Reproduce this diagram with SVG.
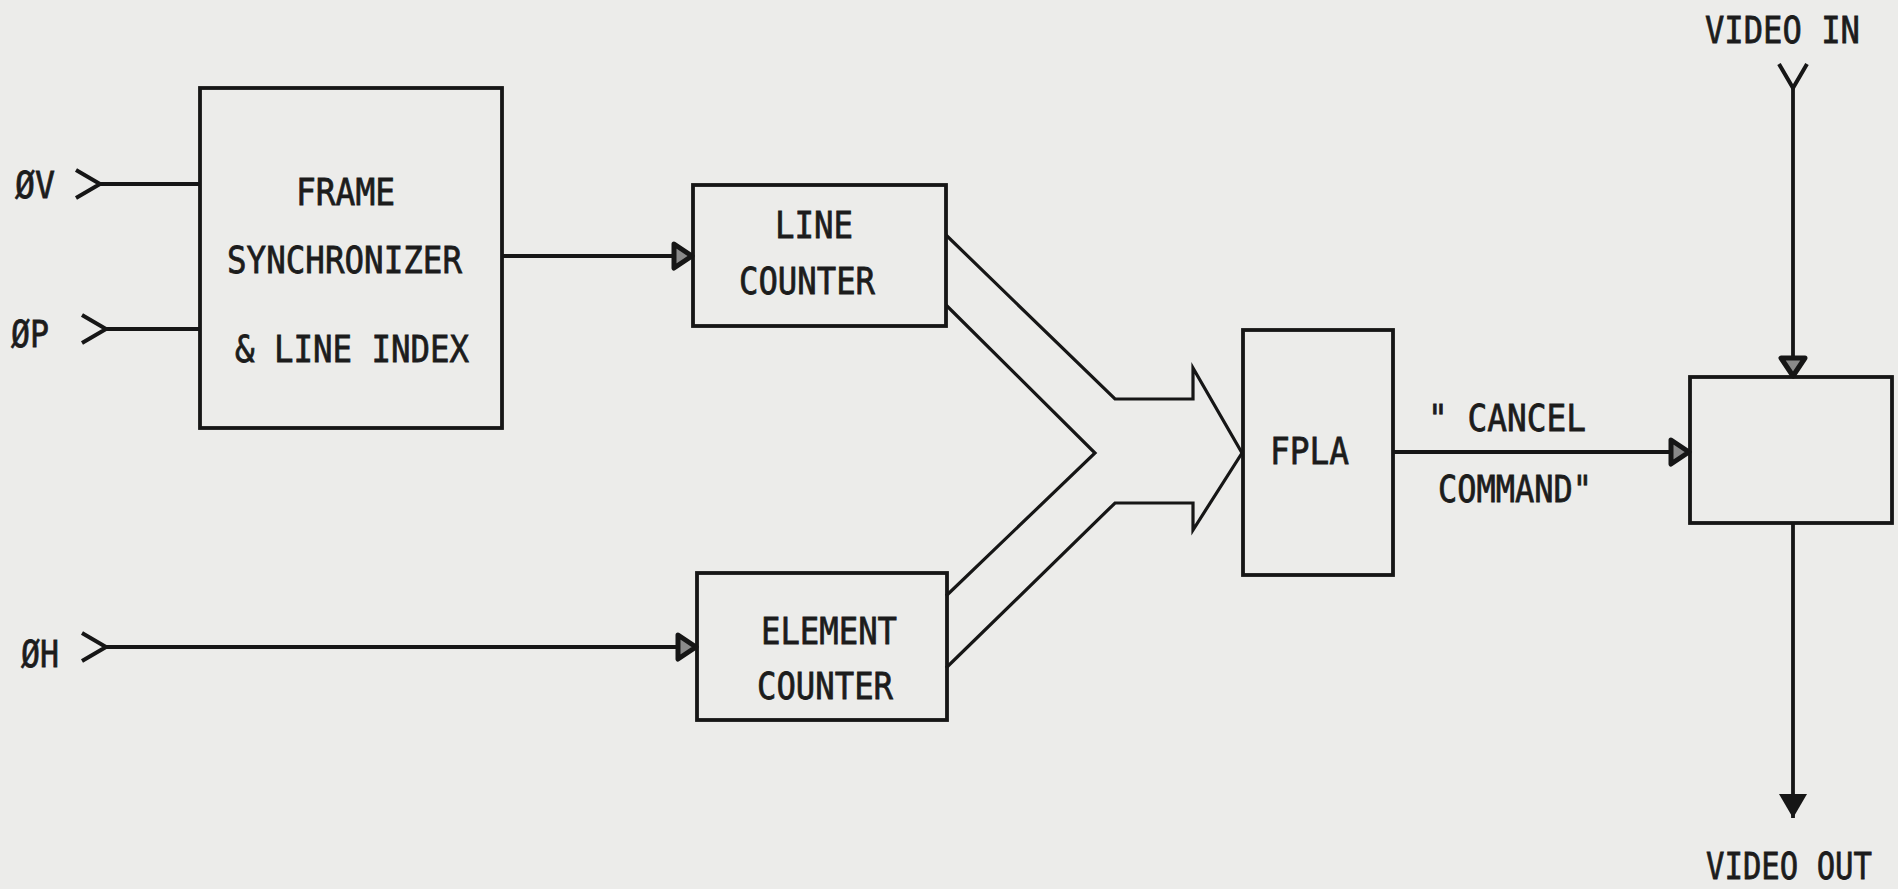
<svg xmlns="http://www.w3.org/2000/svg" width="1898" height="889" viewBox="0 0 1898 889">
<style>
.bg{fill:#ececea}
.box{fill:none;stroke:#161616;stroke-width:3.8}
.ln{fill:none;stroke:#161616;stroke-width:3.8}
.thin{fill:none;stroke:#161616;stroke-width:3.2;stroke-linejoin:miter}
.t{font-family:"DejaVu Sans Mono","Liberation Mono",monospace;font-size:38px;fill:#1c1c1c;stroke:#1c1c1c;stroke-width:0.8}
</style>
<defs>
<marker id="tri" markerUnits="userSpaceOnUse" viewBox="0 0 22 28" refX="21" refY="14" markerWidth="22" markerHeight="28" orient="auto" overflow="visible">
<path d="M2,2 L20,14 L2,26 Z" fill="#8a8a8a" stroke="#161616" stroke-width="5" stroke-linejoin="round"/>
</marker>
<marker id="solid" markerUnits="userSpaceOnUse" viewBox="0 0 26 30" refX="25" refY="15" markerWidth="26" markerHeight="30" orient="auto" overflow="visible">
<path d="M1,1 L25,15 L1,29 Z" fill="#161616"/>
</marker>
<marker id="tail" markerUnits="userSpaceOnUse" viewBox="0 0 25 30" refX="24" refY="15" markerWidth="25" markerHeight="30" orient="auto" overflow="visible">
<path d="M0,1 L24,15 L0,29" fill="none" stroke="#161616" stroke-width="4"/>
</marker>
</defs>
<rect class="bg" x="0" y="0" width="1898" height="889"/>

<g id="connectors">
<line class="ln" x1="100" y1="184" x2="200" y2="184" marker-start="url(#tail)"/>
<line class="ln" x1="106" y1="329" x2="200" y2="329" marker-start="url(#tail)"/>
<line class="ln" x1="106" y1="647" x2="697" y2="647" marker-start="url(#tail)" marker-end="url(#tri)"/>
<line class="ln" x1="502" y1="256" x2="693" y2="256" marker-end="url(#tri)"/>
<line class="ln" x1="1393" y1="452" x2="1690" y2="452" marker-end="url(#tri)"/>
<line class="ln" x1="1793" y1="88" x2="1793" y2="377" marker-start="url(#tail)" marker-end="url(#tri)"/>
<line class="ln" x1="1793" y1="523" x2="1793" y2="818" marker-end="url(#solid)"/>
<path class="thin" d="M946,235 L1115,399 L1193,399 L1193,368 L1242,453 L1193,530 L1193,503 L1115,503 L946,668"/>
<path class="thin" d="M946,305 L1095,453 L946,596"/>
</g>

<g id="input-v"><text class="t" x="15" y="198" textLength="40" lengthAdjust="spacingAndGlyphs">ØV</text></g>
<g id="input-p"><text class="t" x="11" y="347" textLength="38" lengthAdjust="spacingAndGlyphs">ØP</text></g>
<g id="input-h"><text class="t" x="21" y="667" textLength="38" lengthAdjust="spacingAndGlyphs">ØH</text></g>

<g id="frame-sync">
<rect class="box" x="200" y="88" width="302" height="340"/>
<text class="t" x="296" y="205" textLength="99" lengthAdjust="spacingAndGlyphs">FRAME</text>
<text class="t" x="227" y="273" textLength="235" lengthAdjust="spacingAndGlyphs">SYNCHRONIZER</text>
<text class="t" x="235" y="362" textLength="234" lengthAdjust="spacingAndGlyphs">&amp; LINE INDEX</text>
</g>

<g id="line-counter">
<rect class="box" x="693" y="185" width="253" height="141"/>
<text class="t" x="775" y="238" textLength="78" lengthAdjust="spacingAndGlyphs">LINE</text>
<text class="t" x="739" y="294" textLength="136" lengthAdjust="spacingAndGlyphs">COUNTER</text>
</g>

<g id="element-counter">
<rect class="box" x="697" y="573" width="250" height="147"/>
<text class="t" x="761" y="644" textLength="136" lengthAdjust="spacingAndGlyphs">ELEMENT</text>
<text class="t" x="757" y="699" textLength="136" lengthAdjust="spacingAndGlyphs">COUNTER</text>
</g>

<g id="fpla">
<rect class="box" x="1243" y="330" width="150" height="245"/>
<text class="t" x="1270" y="464" textLength="79" lengthAdjust="spacingAndGlyphs">FPLA</text>
</g>

<g id="cancel-label">
<text class="t" x="1428" y="431" textLength="158" lengthAdjust="spacingAndGlyphs">" CANCEL</text>
<text class="t" x="1438" y="502" textLength="154" lengthAdjust="spacingAndGlyphs">COMMAND"</text>
</g>

<g id="video-switch">
<rect class="box" x="1690" y="377" width="202" height="146"/>
</g>

<g id="video-in"><text class="t" x="1860" y="43" text-anchor="end" textLength="155" lengthAdjust="spacingAndGlyphs">VIDEO IN</text></g>
<g id="video-out"><text class="t" x="1872" y="879" text-anchor="end" textLength="166" lengthAdjust="spacingAndGlyphs">VIDEO OUT</text></g>
</svg>
